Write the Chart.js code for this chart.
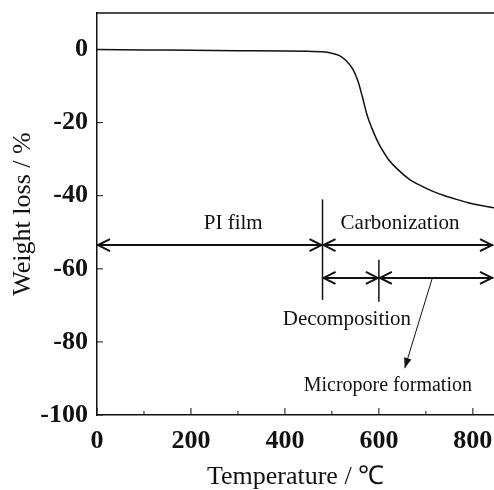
<!DOCTYPE html>
<html>
<head>
<meta charset="utf-8">
<script src="https://cdn.jsdelivr.net/npm/chart.js@4.4.1/dist/chart.umd.min.js"></script>
<style>
  html, body { margin: 0; padding: 0; background: #fff; }
  #wrap { width: 494px; height: 490px; }
</style>
</head>
<body>
<div id="wrap"><canvas id="tga"></canvas></div>
<script>
// TGA curve of the PI film
const temps = [0, 100, 200, 300, 400, 450, 480, 500, 515, 530, 545, 555, 565, 575, 585, 595, 605, 620, 640, 665, 690, 715, 740, 765, 790, 815, 845];
const weights = [0.0, -0.1, -0.2, -0.3, -0.4, -0.5, -0.6, -1.0, -1.6, -3.0, -5.5, -8.5, -13, -18, -21.5, -24.5, -27, -30, -32.8, -35.5, -37.3, -38.8, -40, -41, -41.9, -42.6, -43.3];

// axes
const xTicks = [0, 200, 400, 600, 800];
const xMinor = [100, 300, 500, 700];
const yTicks = [0, -20, -40, -60, -80, -100];
const xRange = [0, 845];
const yRange = [-100, 10];

// stage annotations (data units)
const stageBounds = [0, 480, 845];       // PI film | Carbonization
const subBounds = [480, 600, 845];       // Decomposition | Micropore formation
const stageLevel = -53.5;
const subLevel = -62.5;
const markers = [[480, -41, -68.5], [600, -57.5, -69]];
const pointer = [[713, -62.8], [655, -87.2]];
const labels = [
  ['PI film', 290, -47.5],
  ['Carbonization', 645, -47.5],
  ['Decomposition', 532, -74],
  ['Micropore formation', 619, -92]
];

const serif = '"Liberation Serif", "Times New Roman", serif';

function openHead(ctx, x, y, dir) {
  // open "<" or ">" arrow head at (x, y)
  ctx.beginPath();
  ctx.moveTo(x - dir * 12, y - 6);
  ctx.lineTo(x, y);
  ctx.lineTo(x - dir * 12, y + 6);
  ctx.stroke();
}

function doubleArrows(ctx, xs, ys, bounds, level) {
  const y = ys.getPixelForValue(level);
  for (let i = 0; i < bounds.length - 1; i++) {
    const a = xs.getPixelForValue(bounds[i]);
    const b = Math.min(xs.getPixelForValue(bounds[i + 1]), ctx.canvas.width - 1);
    ctx.beginPath();
    ctx.moveTo(a, y);
    ctx.lineTo(b, y);
    ctx.stroke();
    openHead(ctx, a + 1, y, -1);
    openHead(ctx, b - 1, y, 1);
  }
}

const frameAndNotes = {
  id: 'frameAndNotes',
  afterDraw(chart) {
    const ctx = chart.ctx;
    const xs = chart.scales.x;
    const ys = chart.scales.y;
    const area = chart.chartArea;
    ctx.save();
    ctx.strokeStyle = '#111';
    ctx.fillStyle = '#111';

    // top frame line
    ctx.lineWidth = 1.5;
    ctx.beginPath();
    ctx.moveTo(area.left, area.top);
    ctx.lineTo(area.right, area.top);
    ctx.stroke();

    // inward ticks
    ctx.lineWidth = 1;
    xTicks.forEach(v => {
      const x = xs.getPixelForValue(v);
      ctx.beginPath(); ctx.moveTo(x, area.bottom); ctx.lineTo(x, area.bottom - 7); ctx.stroke();
    });
    xMinor.forEach(v => {
      const x = xs.getPixelForValue(v);
      ctx.beginPath(); ctx.moveTo(x, area.bottom); ctx.lineTo(x, area.bottom - 4); ctx.stroke();
    });
    yTicks.forEach(v => {
      const y = ys.getPixelForValue(v);
      ctx.beginPath(); ctx.moveTo(area.left, y); ctx.lineTo(area.left + 6, y); ctx.stroke();
    });

    // stage arrows
    ctx.lineWidth = 2;
    doubleArrows(ctx, xs, ys, stageBounds, stageLevel);
    doubleArrows(ctx, xs, ys, subBounds, subLevel);

    ctx.lineWidth = 1.5;
    markers.forEach(([t, w1, w2]) => {
      const x = xs.getPixelForValue(t);
      ctx.beginPath();
      ctx.moveTo(x, ys.getPixelForValue(w1));
      ctx.lineTo(x, ys.getPixelForValue(w2));
      ctx.stroke();
    });

    // pointer to "Micropore formation"
    const p0 = [xs.getPixelForValue(pointer[0][0]), ys.getPixelForValue(pointer[0][1])];
    const p1 = [xs.getPixelForValue(pointer[1][0]), ys.getPixelForValue(pointer[1][1])];
    ctx.lineWidth = 1;
    ctx.beginPath(); ctx.moveTo(p0[0], p0[1]); ctx.lineTo(p1[0], p1[1]); ctx.stroke();
    const ang = Math.atan2(p1[1] - p0[1], p1[0] - p0[0]);
    ctx.beginPath();
    ctx.moveTo(p1[0], p1[1]);
    ctx.lineTo(p1[0] - 11 * Math.cos(ang - 0.35), p1[1] - 11 * Math.sin(ang - 0.35));
    ctx.lineTo(p1[0] - 11 * Math.cos(ang + 0.35), p1[1] - 11 * Math.sin(ang + 0.35));
    ctx.closePath();
    ctx.fill();

    // stage labels
    ctx.textAlign = 'center';
    ctx.textBaseline = 'middle';
    labels.forEach(([txt, t, w], i) => {
      ctx.font = (i === 3 ? '20px ' : '21px ') + serif;
      ctx.fillText(txt, xs.getPixelForValue(t), ys.getPixelForValue(w));
    });
    ctx.restore();
  }
};

new Chart(document.getElementById('tga'), {
  type: 'line',
  data: {
    datasets: [{
      data: temps.map((t, i) => ({ x: t, y: weights[i] })),
      borderColor: '#111',
      borderWidth: 1.5,
      pointRadius: 0,
      cubicInterpolationMode: 'monotone',
      fill: false
    }]
  },
  options: {
    responsive: true,
    maintainAspectRatio: false,
    animation: false,
    layout: { padding: { top: 13, right: 0, left: 0, bottom: 0 } },
    plugins: { legend: { display: false }, tooltip: { enabled: false } },
    scales: {
      x: {
        type: 'linear',
        min: xRange[0],
        max: xRange[1],
        afterBuildTicks: s => { s.ticks = xTicks.map(v => ({ value: v })); },
        afterFit: s => { s.height = 75; s.paddingLeft = 0; s.paddingRight = 0; },
        grid: { display: false, drawTicks: false },
        border: { display: true, color: '#111', width: 1.5 },
        ticks: { color: '#111', padding: 11, maxRotation: 0, font: { family: serif, size: 26, weight: 'bold' } },
        title: {
          display: true,
          text: 'Temperature / ℃',
          color: '#111',
          padding: { top: 0, bottom: -3 },
          font: { family: serif, size: 26 }
        }
      },
      y: {
        min: yRange[0],
        max: yRange[1],
        afterBuildTicks: s => { s.ticks = yTicks.map(v => ({ value: v })); },
        afterFit: s => { s.width = 97; s.paddingTop = 0; s.paddingBottom = 0; },
        grid: { display: false, drawTicks: false },
        border: { display: true, color: '#111', width: 1.5 },
        ticks: { color: '#111', padding: 9, font: { family: serif, size: 26, weight: 'bold' } },
        title: {
          display: true,
          text: 'Weight loss / %',
          color: '#111',
          padding: { top: 8, bottom: 0 },
          font: { family: serif, size: 26 }
        }
      }
    }
  },
  plugins: [frameAndNotes]
});
</script>
</body>
</html>
